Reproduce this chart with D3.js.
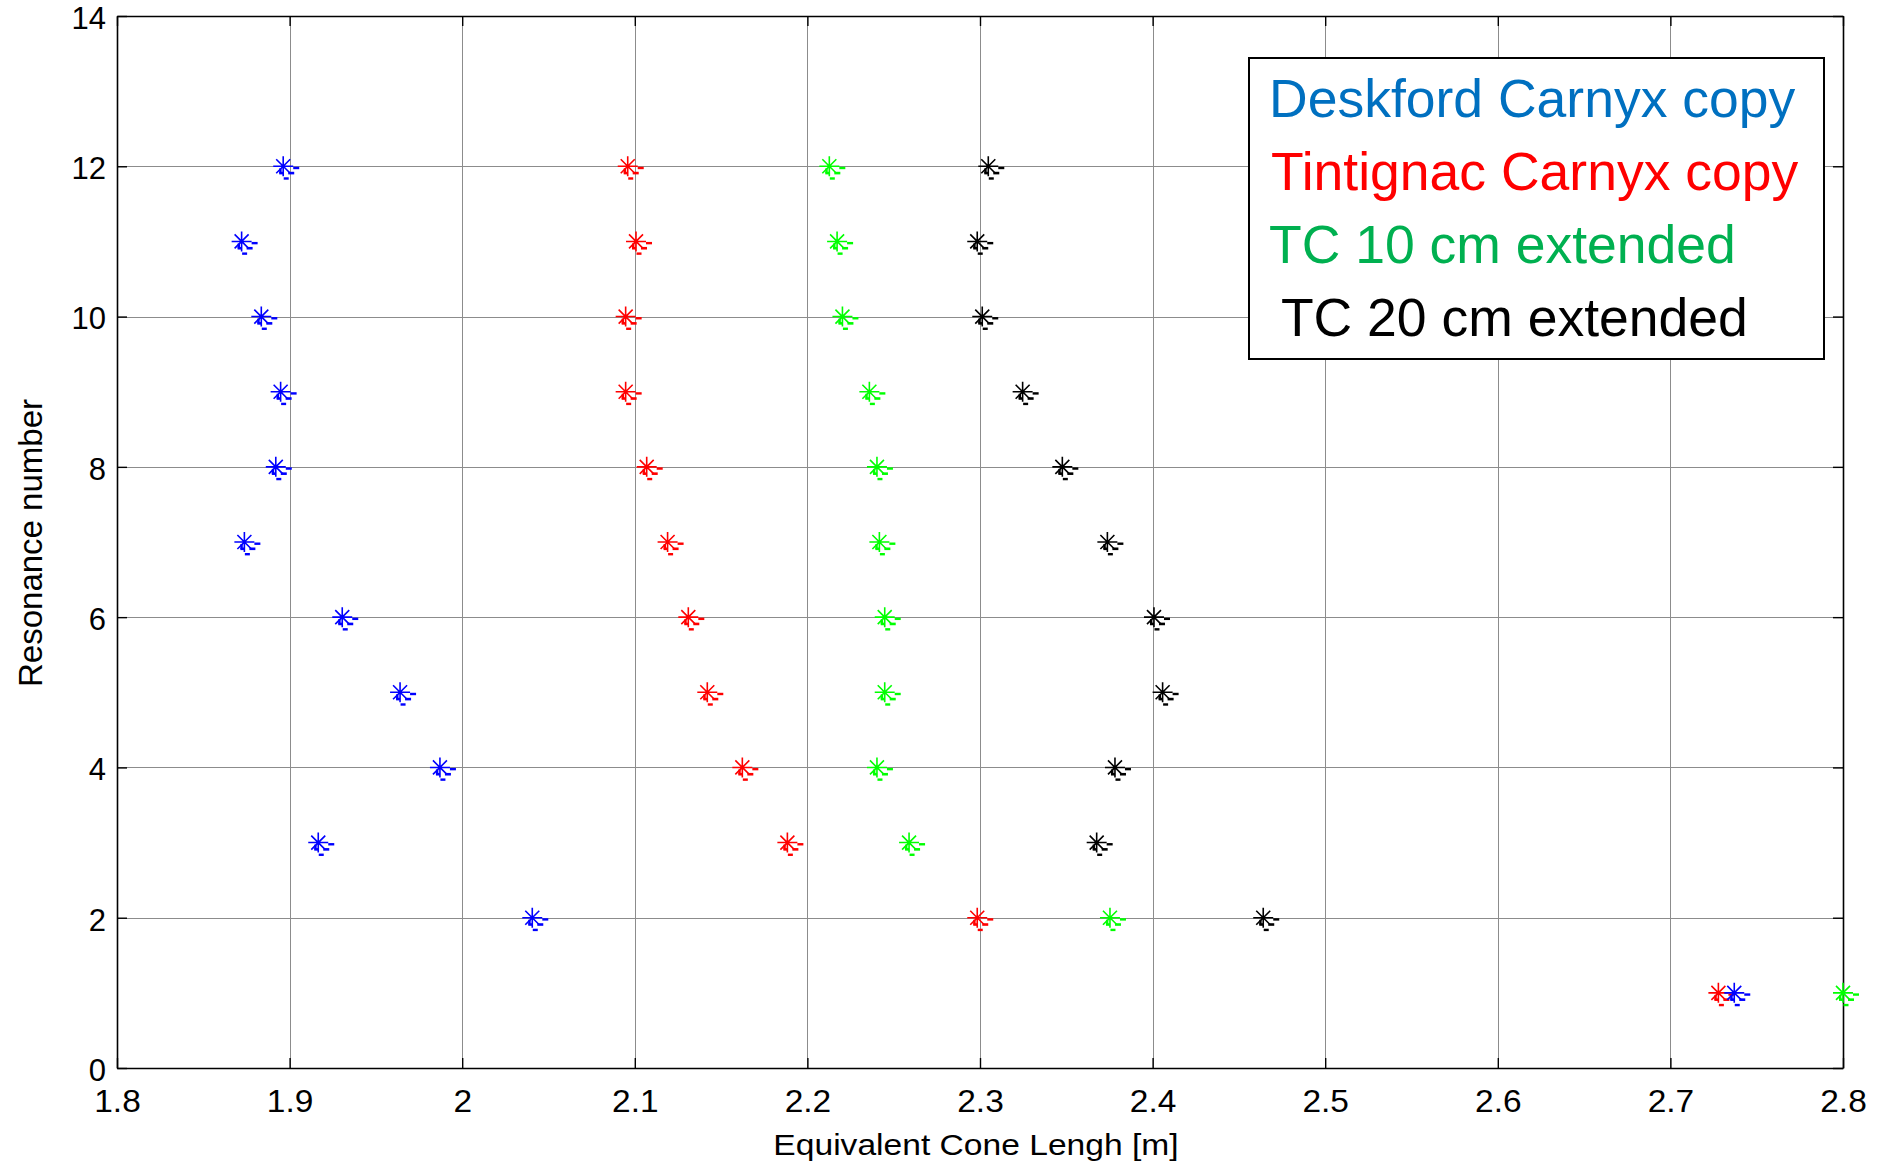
<!DOCTYPE html>
<html lang="en">
<head>
<meta charset="utf-8">
<title>Resonance number vs equivalent cone length</title>
<script src="https://d3js.org/d3.v7.min.js"></script>
<style>
  body { margin: 0; background: #fff; }
  svg text { font-family: "Liberation Sans", Arial, sans-serif; fill: #000; }
  .grid line { stroke: #8c8c8c; stroke-width: 1; shape-rendering: crispEdges; }
  .axis path, .axis line { stroke: #000; }
</style>
</head>
<body>
<svg id="chart" width="1888" height="1165"></svg>
<script>
// resonance numbers (y) and equivalent cone length per copy (x, in m)
var resonance = [1, 2, 3, 4, 5, 6, 7, 8, 9, 10, 11, 12];
var deskford  = [2.737, 2.0406, 1.9166, 1.9871, 1.964, 1.9305, 1.8738, 1.892, 1.8948, 1.8836, 1.8722, 1.8963];
var tintignac = [2.7278, 2.2984, 2.1884, 2.1623, 2.142, 2.131, 2.119, 2.1069, 2.0947, 2.0947, 2.1007, 2.0959];
var tc10      = [2.8, 2.3753, 2.2589, 2.2403, 2.2448, 2.2448, 2.2417, 2.2403, 2.2359, 2.2203, 2.2172, 2.2127];
var tc20      = [null, 2.4641, 2.3676, 2.3782, 2.4058, 2.4008, 2.3738, 2.3477, 2.3247, 2.3013, 2.2984, 2.3048];

var xTicks = [1.8, 1.9, 2, 2.1, 2.2, 2.3, 2.4, 2.5, 2.6, 2.7, 2.8];
var xTickLabels = ["1.8", "1.9", "2", "2.1", "2.2", "2.3", "2.4", "2.5", "2.6", "2.7", "2.8"];
var yTicks = [0, 2, 4, 6, 8, 10, 12, 14];

var legendNames = ["Deskford Carnyx copy", "Tintignac Carnyx copy", "TC 10 cm extended", " TC 20 cm extended"];
var legendColors = ["#0070c0", "#ff0000", "#00b050", "#000000"];

window.onload = function() {
  var svg = d3.select("#chart"),
      margin = {top: 16, right: 45, bottom: 97, left: 117},
      width = +svg.attr("width") - margin.left - margin.right,
      height = +svg.attr("height") - margin.top - margin.bottom;

  var x = d3.scaleLinear().domain([1.8, 2.8]).range([0, width]),
      y = d3.scaleLinear().domain([0, 14]).range([height, 0]);

  var g = svg.append("g")
      .attr("transform", "translate(" + margin.left + "," + margin.top + ")");

  // grid
  g.append("g").attr("class", "grid")
    .selectAll("line.v").data(xTicks.slice(1, -1)).enter().append("line")
      .attr("x1", function(d) { return Math.round(x(d)) + 0.5; })
      .attr("x2", function(d) { return Math.round(x(d)) + 0.5; })
      .attr("y1", 0).attr("y2", height);
  g.select(".grid")
    .selectAll("line.h").data(yTicks.slice(1, -1)).enter().append("line")
      .attr("y1", function(d) { return Math.round(y(d)) + 0.5; })
      .attr("y2", function(d) { return Math.round(y(d)) + 0.5; })
      .attr("x1", 0).attr("x2", width);

  // axes (ticks inside, like matlab)
  var xAxis = g.append("g")
      .attr("class", "axis")
      .attr("transform", "translate(0," + height + ")")
      .call(d3.axisBottom(x).tickValues(xTicks).tickSizeInner(-10).tickSizeOuter(0)
        .tickFormat(function(d, i) { return xTickLabels[i]; }));
  xAxis.selectAll("text")
      .attr("y", 44)
      .attr("dy", 0)
      .style("font-size", "31px")
      .attr("transform", "scale(1.08,1)");

  var yAxis = g.append("g")
      .attr("class", "axis")
      .call(d3.axisLeft(y).tickValues(yTicks).tickSizeInner(-10).tickSizeOuter(0));
  yAxis.selectAll("text")
      .attr("x", -11)
      .attr("dy", "0.4em")
      .style("font-size", "31px");

  g.append("g").attr("class", "axis")
      .call(d3.axisTop(x).tickValues(xTicks).tickSizeInner(-10).tickSizeOuter(0).tickFormat(""));
  g.append("g").attr("class", "axis")
      .attr("transform", "translate(" + width + ",0)")
      .call(d3.axisRight(y).tickValues(yTicks).tickSizeInner(-10).tickSizeOuter(0).tickFormat(""));

  g.selectAll(".axis path").attr("stroke-width", 1.6);
  g.selectAll(".axis line").attr("stroke-width", 1.4);

  // axis titles
  g.append("text")
      .attr("transform", "translate(" + (width / 2 - 4) + "," + (height + 87) + ") scale(1.12,1)")
      .attr("text-anchor", "middle")
      .style("font-size", "30px")
      .text("Equivalent Cone Lengh [m]");

  svg.append("text")
      .attr("transform", "translate(42," + (margin.top + height / 2 + 1) + ") rotate(-90)")
      .attr("text-anchor", "middle")
      .style("font-size", "33px")
      .text("Resonance number");

  // markers: asterisk plus the little dash bits matlab leaves behind
  var series = [
    {vals: tintignac, color: "#ff0000"},
    {vals: tc10, color: "#00ff00"},
    {vals: tc20, color: "#000000"},
    {vals: deskford, color: "#0000ff"}
  ];
  var star = "M-10,0H10M0,-10V10M-7,-7L7,7M-7,7L7,-7";
  var bits = [[10, 0.5, 6, 2.4], [5, 5.5, 6, 2.6], [-4, 5.5, 4, 2.6], [-4, 2, 2.4, 5], [0.5, 11, 5, 2.4]];

  series.forEach(function(s) {
    var pts = resonance.map(function(r, i) { return {n: r, v: s.vals[i]}; })
      .filter(function(d) { return d.v != null; });
    var m = g.append("g").selectAll("g").data(pts).enter().append("g")
      .attr("transform", function(d) { return "translate(" + x(d.v) + "," + y(d.n) + ")"; });
    m.append("path").attr("d", star).attr("stroke", s.color).attr("stroke-width", 1.6).attr("fill", "none");
    bits.forEach(function(b) {
      m.append("rect").attr("x", b[0]).attr("y", b[1]).attr("width", b[2]).attr("height", b[3])
        .attr("fill", s.color);
    });
  });

  // legend
  var legX = [20, 22, 20, 18];
  var lg = svg.append("g").attr("transform", "translate(1249,58)");
  lg.append("rect")
      .attr("width", 575).attr("height", 301)
      .attr("fill", "#fff").attr("stroke", "#000").attr("stroke-width", 2);
  lg.selectAll("text").data(legendNames).enter().append("text")
      .attr("x", function(d, i) { return legX[i]; })
      .attr("y", function(d, i) { return 59 + i * 73; })
      .attr("xml:space", "preserve")
      .style("white-space", "pre")
      .style("font-size", "53.5px")
      .style("fill", function(d, i) { return legendColors[i]; })
      .text(function(d) { return d; });
};
</script>
</body>
</html>
